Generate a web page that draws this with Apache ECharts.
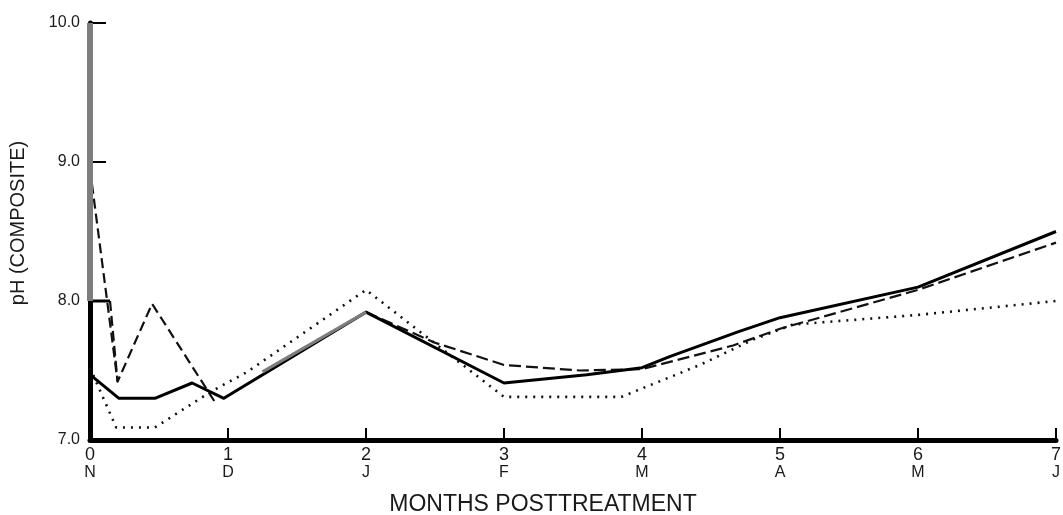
<!DOCTYPE html>
<html>
<head>
<meta charset="utf-8">
<script src="https://cdn.jsdelivr.net/npm/echarts@6/dist/echarts.min.js"></script>
<style>
html,body{margin:0;padding:0;background:#fff;}
#chart{width:1063px;height:515px;}
</style>
</head>
<body>
<div id="chart"></div>
<script>
// Month ticks
const monthNumbers = ['0','1','2','3','4','5','6','7'];
const monthLetters = ['N','D','J','F','M','A','M','J'];
const yTickLabels = ['7.0','8.0','9.0','10.0'];
const yTickValues = [7, 8, 9, 10];

// Solid line
const solidX = [0, 0.21, 0.47, 0.74, 0.97, 2, 3, 3.6, 4, 4.2, 4.7, 5, 6, 7];
const solidY = [7.47, 7.30, 7.30, 7.41, 7.30, 7.92, 7.41, 7.47, 7.52, 7.60, 7.78, 7.88, 8.10, 8.50];
// short solid start at 8.0
const solidStartX = [0, 0.145];
const solidStartY = [8.0, 8.0];

// Dashed line (three pieces)
const dashAX = [0, 0.2, 0.45, 0.92];
const dashAY = [8.95, 7.42, 7.98, 7.25];
const dashBX = [0.145, 0.2];
const dashBY = [8.0, 7.42];
const dashCX = [2, 2.5, 3, 3.55, 4, 4.66, 5, 6, 7];
const dashCY = [7.92, 7.70, 7.54, 7.50, 7.51, 7.68, 7.80, 8.08, 8.42];

// Dotted line
const dotX = [0, 0.19, 0.47, 0.88, 1.14, 2, 3, 3.85, 4.42, 4.8, 5.09, 6, 7];
const dotY = [7.52, 7.09, 7.09, 7.35, 7.49, 8.08, 7.31, 7.31, 7.54, 7.72, 7.83, 7.90, 8.00];

// Gray traces
const grayAxisX = [0, 0];
const grayAxisY = [8.0, 10.0];
const graySegX = [1.25, 2];
const graySegY = [7.49, 7.92];

const zip = (xs, ys) => xs.map((x, i) => [x, ys[i]]);
const FONT = '"Liberation Sans", Arial, sans-serif';
const INK = '#1a1a1a';

const chart = echarts.init(document.getElementById('chart'));

function lineSeries(xs, ys, color, width, type, z) {
  return {
    type: 'line', data: zip(xs, ys), showSymbol: false, symbol: 'none',
    silent: true, animation: false, z: z || 2,
    lineStyle: { color: color, width: width, type: type, cap: 'butt', join: 'round' }
  };
}

chart.setOption({
  animation: false,
  backgroundColor: '#fff',
  grid: { left: 90, right: 7, top: 23, bottom: 75, containLabel: false, outerBoundsMode: 'none' },
  xAxis: {
    type: 'value', min: 0, max: 7, interval: 1,
    name: 'MONTHS POSTTREATMENT', nameLocation: 'middle', nameGap: 53,
    nameTextStyle: { fontFamily: FONT, fontSize: 23, color: INK, padding: [0, 60, 0, 0] },
    axisLine: { show: true, onZero: false, lineStyle: { color: '#000', width: 5 } },
    axisTick: { show: true, inside: true, length: 12, lineStyle: { color: '#000', width: 2 } },
    splitLine: { show: false },
    axisLabel: {
      margin: 7, fontFamily: FONT, color: INK,
      formatter: function (v) {
        const i = Math.round(v);
        return '{n|' + monthNumbers[i] + '}\n{l|' + monthLetters[i] + '}';
      },
      rich: {
        n: { fontFamily: FONT, fontSize: 18, lineHeight: 17, color: INK },
        l: { fontFamily: FONT, fontSize: 16, lineHeight: 17, color: INK }
      }
    }
  },
  yAxis: {
    type: 'value', min: 7, max: 10, interval: 1,
    name: 'pH (COMPOSITE)', nameLocation: 'middle', nameGap: 62, nameRotate: 90,
    nameTextStyle: { fontFamily: FONT, fontSize: 20, color: INK, padding: [0, 0, 0, 17] },
    axisLine: { show: true, onZero: false, lineStyle: { color: '#000', width: 5 } },
    axisTick: { show: true, inside: true, length: 16, lineStyle: { color: '#000', width: 2 } },
    splitLine: { show: false },
    axisLabel: {
      margin: 10, fontFamily: FONT, fontSize: 16, color: INK,
      formatter: function (v) {
        const i = yTickValues.indexOf(Math.round(v));
        return i >= 0 ? yTickLabels[i] : '';
      }
    }
  },
  series: [
    lineSeries(dotX, dotY, '#111', 2.6, [2, 6], 2),
    lineSeries(dashAX, dashAY, '#111', 2.2, [10, 5], 3),
    lineSeries(dashBX, dashBY, '#111', 2.2, [10, 5], 3),
    lineSeries(dashCX, dashCY, '#111', 2.2, [12, 5], 3),
    lineSeries(solidX, solidY, '#000', 3, 'solid', 4),
    lineSeries(solidStartX, solidStartY, '#000', 3, 'solid', 4),
    lineSeries(graySegX, graySegY, '#7d7d7d', 3.4, 'solid', 5),
    lineSeries(grayAxisX, grayAxisY, '#7d7d7d', 6, 'solid', 6)
  ]
});
</script>
</body>
</html>
